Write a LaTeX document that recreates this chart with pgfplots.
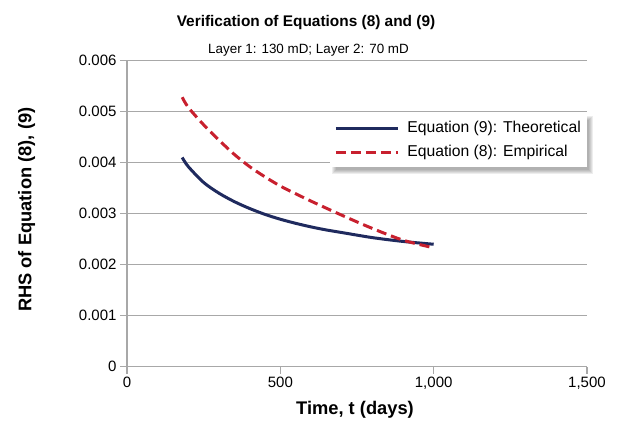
\documentclass[border=0pt]{standalone}
\usepackage{fontspec}
\setmainfont{Liberation Sans}
\usepackage{pgfplots}
\pgfplotsset{compat=1.18}
\usetikzlibrary{backgrounds}
\definecolor{navy}{RGB}{31,42,94}
\definecolor{dred}{RGB}{200,32,46}
\definecolor{gridg}{RGB}{168,168,168}
\begin{document}
\begin{tikzpicture}
\begin{axis}[
 scale only axis, width=460pt, height=306.25pt,
 xmin=0, xmax=1500, ymin=0, ymax=0.006,
 axis lines*=left,
 axis line style={gridg, line width=1.2pt},
 xtick={0,500,1000,1500},
 ytick={0,0.001,0.002,0.003,0.004,0.005,0.006},
 scaled y ticks=false, scaled x ticks=false,
 /pgf/number format/assume math mode=true,
 yticklabel style={/pgf/number format/fixed, /pgf/number format/precision=3},
 xticklabel style={/pgf/number format/1000 sep={,}},
 tick label style={font=\fontsize{15}{18}\selectfont},
 tick align=outside, major tick length=7pt,
 tick style={gridg, line width=1.2pt},
 ymajorgrids, grid style={gridg, line width=1.2pt},
 legend style={name=leg, at={(1,0.8286)}, anchor=north east, draw=none, fill=white,
   font=\fontsize{15.7}{18}\selectfont, inner xsep=4pt, inner ysep=3pt,
   column sep=6pt, cells={anchor=west},
   nodes={inner xsep=2pt, inner ysep=4.5pt, text height=11.5pt, text depth=3.5pt}},
 legend image code/.code={\draw[#1] (0pt,0pt) -- (62pt,0pt);},
]
\addplot[navy, line width=3pt, smooth] coordinates {
 (180,0.00410) (200,0.00392) (250,0.00361) (300,0.00340) (350,0.003235)
 (400,0.00310) (450,0.002985) (500,0.00289) (550,0.00281) (600,0.00274)
 (650,0.00268) (700,0.00263) (800,0.00253) (900,0.002455) (1000,0.00240)};
\addlegendentry{Equation (9): Theoretical}
\addplot[dred, line width=3pt, dash pattern=on 10pt off 5pt, smooth] coordinates {
 (180,0.00528) (200,0.00508) (250,0.00474) (300,0.00444) (350,0.00416)
 (400,0.00392) (450,0.00372) (500,0.00354) (550,0.00339) (600,0.003245)
 (700,0.00297) (800,0.00271) (900,0.00248) (1000,0.00233)};
\addlegendentry{Equation (8): Empirical}
\end{axis}
\begin{scope}[on background layer]
\foreach \d in {0,1,2,3,4} {
 \fill[black, opacity=0.07] ([shift={(2pt+\d pt,-7pt+\d pt)}]leg.south west) rectangle ([shift={(6pt-\d pt,-3pt-\d pt)}]leg.north east);
}
\end{scope}
\node[anchor=base, font=\bfseries\fontsize{15.4}{18}\selectfont] at (179pt,339.75pt) {Verification of Equations (8) and (9)};
\node[anchor=base, font=\fontsize{13.4}{16}\selectfont] at (181.5pt,312.75pt) {Layer 1: 130 mD; Layer 2: 70 mD};
\node[anchor=base, font=\bfseries\fontsize{18.3}{21}\selectfont] at (228pt,-48.25pt) {Time, t (days)};
\node[anchor=base, rotate=90, font=\bfseries\fontsize{18.3}{21}\selectfont] at (-95.6pt,157pt) {RHS of Equation (8), (9)};
\pgfresetboundingbox
\path[use as bounding box] (-127pt,-60.25pt) rectangle (491pt,366.75pt);
\end{tikzpicture}
\end{document}
